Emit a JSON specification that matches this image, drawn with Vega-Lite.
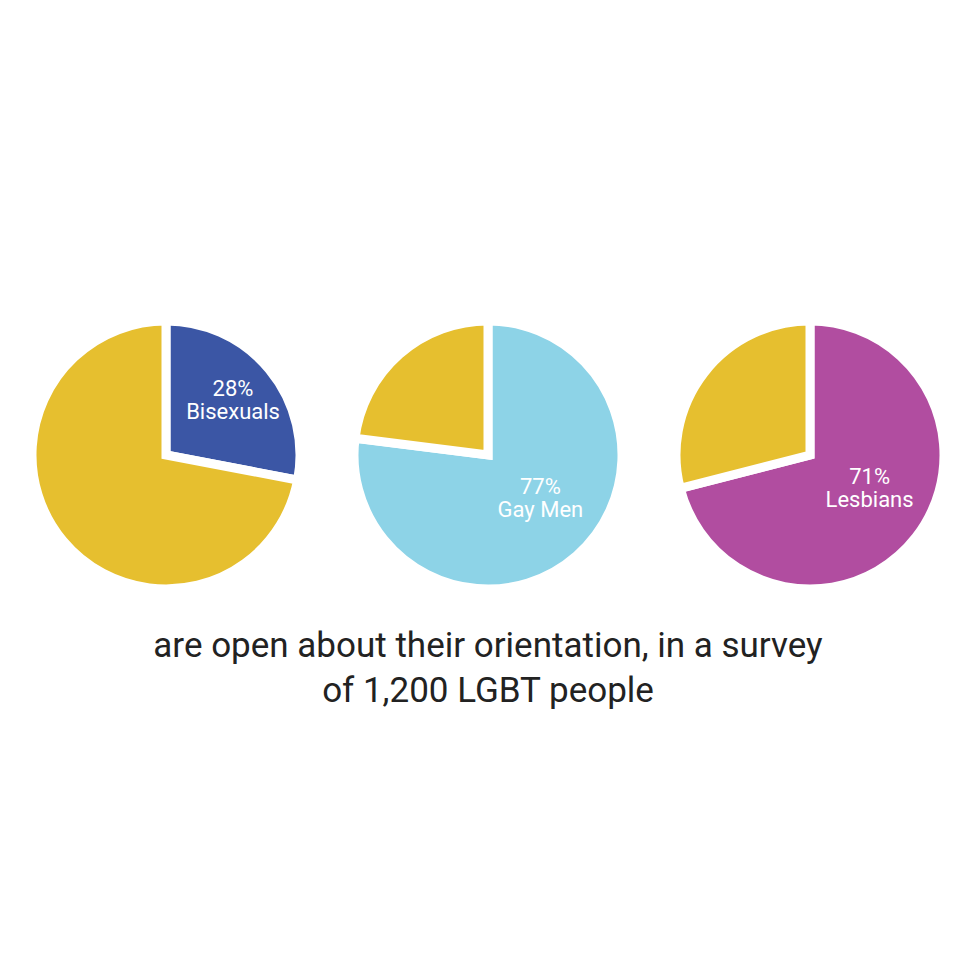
{
  "$schema": "https://vega.github.io/schema/vega-lite/v6.json",
  "background": "white",
  "padding": {"left": 14, "top": 303, "right": 41, "bottom": 10},
  "bounds": "flush",
  "data": {
    "values": [
      {"group": "Bisexuals", "category": "Bisexuals", "value": 28, "rank": 1, "label": "28%\nBisexuals"},
      {"group": "Bisexuals", "category": "Not open", "value": 72, "rank": 2, "label": ""},
      {"group": "Gay Men", "category": "Gay Men", "value": 77, "rank": 1, "label": "77%\nGay Men"},
      {"group": "Gay Men", "category": "Not open", "value": 23, "rank": 2, "label": ""},
      {"group": "Lesbians", "category": "Lesbians", "value": 71, "rank": 1, "label": "71%\nLesbians"},
      {"group": "Lesbians", "category": "Not open", "value": 29, "rank": 2, "label": ""}
    ]
  },
  "title": {
    "text": ["are open about their orientation, in a survey", "of 1,200 LGBT people"],
    "orient": "bottom",
    "anchor": "middle",
    "font": "Roboto, sans-serif",
    "fontSize": 35,
    "fontWeight": "normal",
    "color": "#222222",
    "lineHeight": 45,
    "offset": 22
  },
  "facet": {
    "column": {"field": "group", "type": "nominal", "sort": ["Bisexuals", "Gay Men", "Lesbians"], "header": null}
  },
  "spacing": 62,
  "spec": {
    "width": 260,
    "height": 260,
    "encoding": {
      "theta": {"field": "value", "type": "quantitative", "stack": true},
      "order": {"field": "rank", "type": "quantitative"}
    },
    "layer": [
      {
        "mark": {"type": "arc", "outerRadius": 134, "stroke": "white", "strokeWidth": 9},
        "encoding": {
          "color": {
            "field": "category",
            "type": "nominal",
            "scale": {"domain": ["Bisexuals", "Gay Men", "Lesbians", "Not open"], "range": ["#3B56A5", "#8DD3E7", "#B14DA0", "#E6BF2F"]},
            "legend": null
          }
        }
      },
      {
        "mark": {"type": "text", "radius": {"expr": "datum.value < 50 ? 87 : 68"}, "thetaOffset": {"expr": "datum.value < 50 ? 0 : -0.157"}, "dy": -11, "fontSize": 22, "color": "white", "lineBreak": "\n", "align": "center", "baseline": "middle", "lineHeight": 23, "font": "Roboto, sans-serif"},
        "encoding": {
          "text": {"field": "label", "type": "nominal"}
        }
      }
    ]
  },
  "config": {"view": {"stroke": null}}
}
